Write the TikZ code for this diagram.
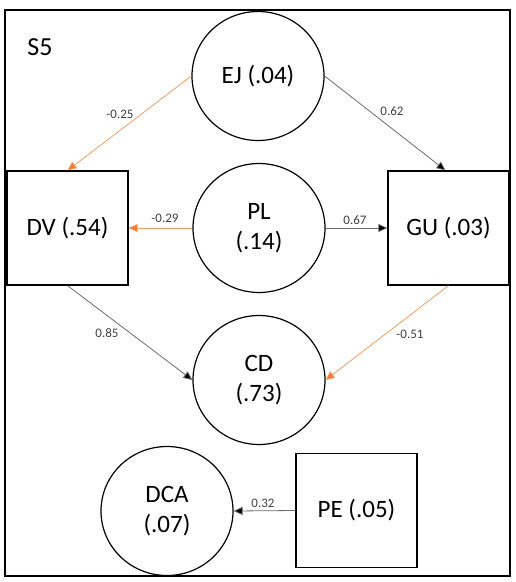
\documentclass[tikz,border=0pt]{standalone}
\usepackage{fontspec}
\setmainfont{Carlito}
\usetikzlibrary{shapes.geometric,arrows.meta}
\definecolor{offorange}{RGB}{237,125,49}
\definecolor{lblgray}{RGB}{64,64,64}
\begin{document}
\begin{tikzpicture}[x=1pt,y=-1pt,
  circ/.style={ellipse,draw,line width=1.2pt,minimum width=132pt,minimum height=129pt,inner sep=0pt,align=center,font=\fontsize{25}{30}\selectfont},
  sq/.style={rectangle,draw,line width=1.2pt,minimum width=121pt,minimum height=114pt,inner sep=0pt,align=center,font=\fontsize{25}{30}\selectfont},
  posarrow/.style={draw=gray!85!black,line width=0.8pt,-{Triangle[length=9pt,width=8pt,fill=black]}},
  negarrow/.style={draw=offorange!75,line width=0.8pt,-{Triangle[length=9pt,width=8pt,fill=offorange]}},
  lbl/.style={text=lblgray,font=\fontsize{13}{15}\selectfont,inner sep=0pt}
]
\useasboundingbox (0,0) rectangle (515,582);
\draw[line width=2pt] (5,10) rectangle (510,576);
\node[font=\fontsize{26}{30}\selectfont,inner sep=0pt] (s5) at (40,47) {S5};

\node[circ] (EJ) at (258,76) {EJ (.04)};
\node[circ] (PL) at (259,228) {PL\\(.14)};
\node[circ] (CD) at (259,380) {CD\\(.73)};
\node[circ] (DCA) at (167,511) {DCA\\(.07)};
\node[sq] (DV) at (67.5,228) {DV (.54)};
\node[sq] (GU) at (448.5,228) {GU (.03)};
\node[sq] (PE) at (356.5,510.5) {PE (.05)};

\draw[negarrow] (EJ.west) -- (DV.north);
\draw[posarrow] (EJ.east) -- ([xshift=-3pt]GU.north);
\draw[negarrow] (PL.west) -- (DV.east);
\draw[posarrow] (PL.east) -- (GU.west);
\draw[posarrow] (DV.south) -- (CD.west);
\draw[negarrow] (GU.south) -- (CD.east);
\draw[posarrow] (PE.west) -- (DCA.east);

\node[lbl] (l1) at (120,114) {-0.25};
\node[lbl] (l2) at (392,111) {0.62};
\node[lbl] (l3) at (165,218) {-0.29};
\node[lbl] (l4) at (355,220) {0.67};
\node[lbl] (l5) at (107,333) {0.85};
\node[lbl] (l6) at (410,334) {-0.51};
\node[lbl] (l7) at (263,503) {0.32};
\end{tikzpicture}
\end{document}
